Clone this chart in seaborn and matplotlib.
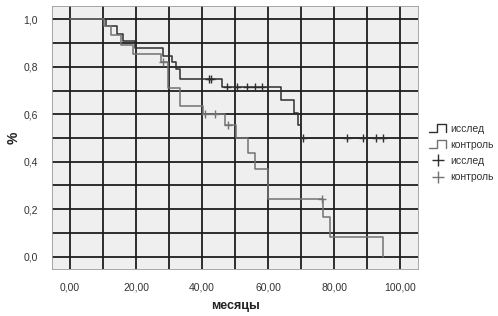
import numpy as np
import pandas as pd
import matplotlib
matplotlib.use("Agg")
import matplotlib.pyplot as plt
import seaborn as sns
from matplotlib.legend_handler import HandlerBase
from matplotlib.lines import Line2D
from matplotlib.ticker import MultipleLocator, FuncFormatter

# ---- data ----
groups = ["исслед", "контроль"]

t_study = [0, 10.8, 14.2, 16.0, 19.5, 28.0, 31.0, 32.0, 33.2, 45.9, 64.0, 67.8, 69.1, 69.9, 94.8]
s_study = [1.0, 0.97, 0.94, 0.91, 0.88, 0.845, 0.82, 0.79, 0.75, 0.715, 0.66, 0.605, 0.555, 0.50, 0.50]

t_ctrl = [0, 10.2, 12.5, 15.5, 19.0, 27.5, 29.5, 33.2, 40.3, 46.9, 50.4, 53.9, 56.0, 59.8, 76.7, 78.7, 94.8]
s_ctrl = [1.0, 0.97, 0.935, 0.89, 0.855, 0.82, 0.71, 0.635, 0.60, 0.555, 0.50, 0.435, 0.37, 0.245, 0.165, 0.082, 0.0]

cens_t_study = [42.1, 42.8, 47.4, 50.6, 53.7, 56.0, 58.0, 70.6, 83.8, 88.8, 92.8, 94.8]
cens_s_study = [0.75, 0.75, 0.715, 0.715, 0.715, 0.715, 0.715, 0.50, 0.50, 0.50, 0.50, 0.50]

cens_t_ctrl = [28.0, 40.8, 43.8, 47.9, 76.2]
cens_s_ctrl = [0.82, 0.60, 0.60, 0.555, 0.245]

x_ticks = [0, 20, 40, 60, 80, 100]
y_ticks = [0.0, 0.2, 0.4, 0.6, 0.8, 1.0]

colors = {"исслед": "#2e2e2e", "контроль": "#737373"}

curves = pd.DataFrame({
    "t": t_study + t_ctrl,
    "s": s_study + s_ctrl,
    "g": [groups[0]] * len(t_study) + [groups[1]] * len(t_ctrl),
})
cens = pd.DataFrame({
    "t": cens_t_study + cens_t_ctrl,
    "s": cens_s_study + cens_s_ctrl,
    "g": [groups[0]] * len(cens_t_study) + [groups[1]] * len(cens_t_ctrl),
})

sns.set_style("white")
plt.rcParams["font.family"] = ["Liberation Sans", "DejaVu Sans"]

fig = plt.figure(figsize=(4.98, 3.16), dpi=100)
ax = fig.add_axes([52 / 498, 1 - 269 / 316, (418 - 52) / 498, (269 - 6) / 316])
ax.set_facecolor("#efefef")

ax.set_xlim(-5.5, 105.4)
ax.set_ylim(-0.052, 1.056)
ax.xaxis.set_major_locator(MultipleLocator(20))
ax.xaxis.set_minor_locator(MultipleLocator(10))
ax.yaxis.set_major_locator(MultipleLocator(0.2))
ax.yaxis.set_minor_locator(MultipleLocator(0.1))
ax.grid(True, which="both", color="#1e1e1e", linewidth=1.3, zorder=0)
ax.set_axisbelow(True)

sns.lineplot(data=curves, x="t", y="s", hue="g", palette=colors, estimator=None,
             sort=False, drawstyle="steps-post", linewidth=1.1, legend=False, ax=ax, zorder=3)
for g in groups:
    sub = cens[cens["g"] == g]
    ax.plot(sub["t"], sub["s"], linestyle="none", marker="+", markersize=6,
            markeredgewidth=1.0, color=colors[g], zorder=4)

ax.xaxis.set_major_formatter(FuncFormatter(lambda v, p: f"{v:.2f}".replace(".", ",")))
ax.yaxis.set_major_formatter(FuncFormatter(lambda v, p: f"{v:.1f}".replace(".", ",")))
ax.tick_params(axis="both", which="major", length=7, width=1.3, color="#1e1e1e",
               labelsize=7.5, labelcolor="#333333", pad=3)
ax.tick_params(axis="both", which="minor", length=0)
ax.set_xticks(x_ticks)
ax.set_yticks(y_ticks)
for sp in ax.spines.values():
    sp.set_color("#9a9a9a")
    sp.set_linewidth(0.6)

ax.set_xlabel("месяцы", fontsize=9, fontweight="bold", color="#222222", labelpad=5)
ax.set_ylabel("%", fontsize=10, fontweight="bold", color="#222222", labelpad=2)


class StepHandler(HandlerBase):
    def create_artists(self, legend, orig, xd, yd, width, height, fontsize, trans):
        x0, x1 = -xd, -xd + width
        xm = x0 + 0.45 * width
        y0, y1 = -yd, -yd + height * 1.1
        ln = Line2D([x0, xm, xm, x1, x1], [y0, y0, y1, y1, y0],
                    color=orig.get_color(), linewidth=1.0, transform=trans)
        return [ln]


h1 = Line2D([], [], color=colors[groups[0]])
h2 = Line2D([], [], color=colors[groups[1]])
h3 = Line2D([], [], color=colors[groups[0]], linestyle="none", marker="+", markersize=8, markeredgewidth=1.0)
h4 = Line2D([], [], color=colors[groups[1]], linestyle="none", marker="+", markersize=8, markeredgewidth=1.0)
fig.legend([h1, h2, h3, h4], [groups[0], groups[1], groups[0], groups[1]],
           handler_map={h1: StepHandler(), h2: StepHandler()},
           loc="center left", bbox_to_anchor=(425 / 498, 1 - 153 / 316),
           frameon=False, fontsize=7.5, handlelength=1.6, handletextpad=0.4,
           labelspacing=0.6, borderaxespad=0, labelcolor="#333333")

fig.savefig("out.png", dpi=100, facecolor="white")
